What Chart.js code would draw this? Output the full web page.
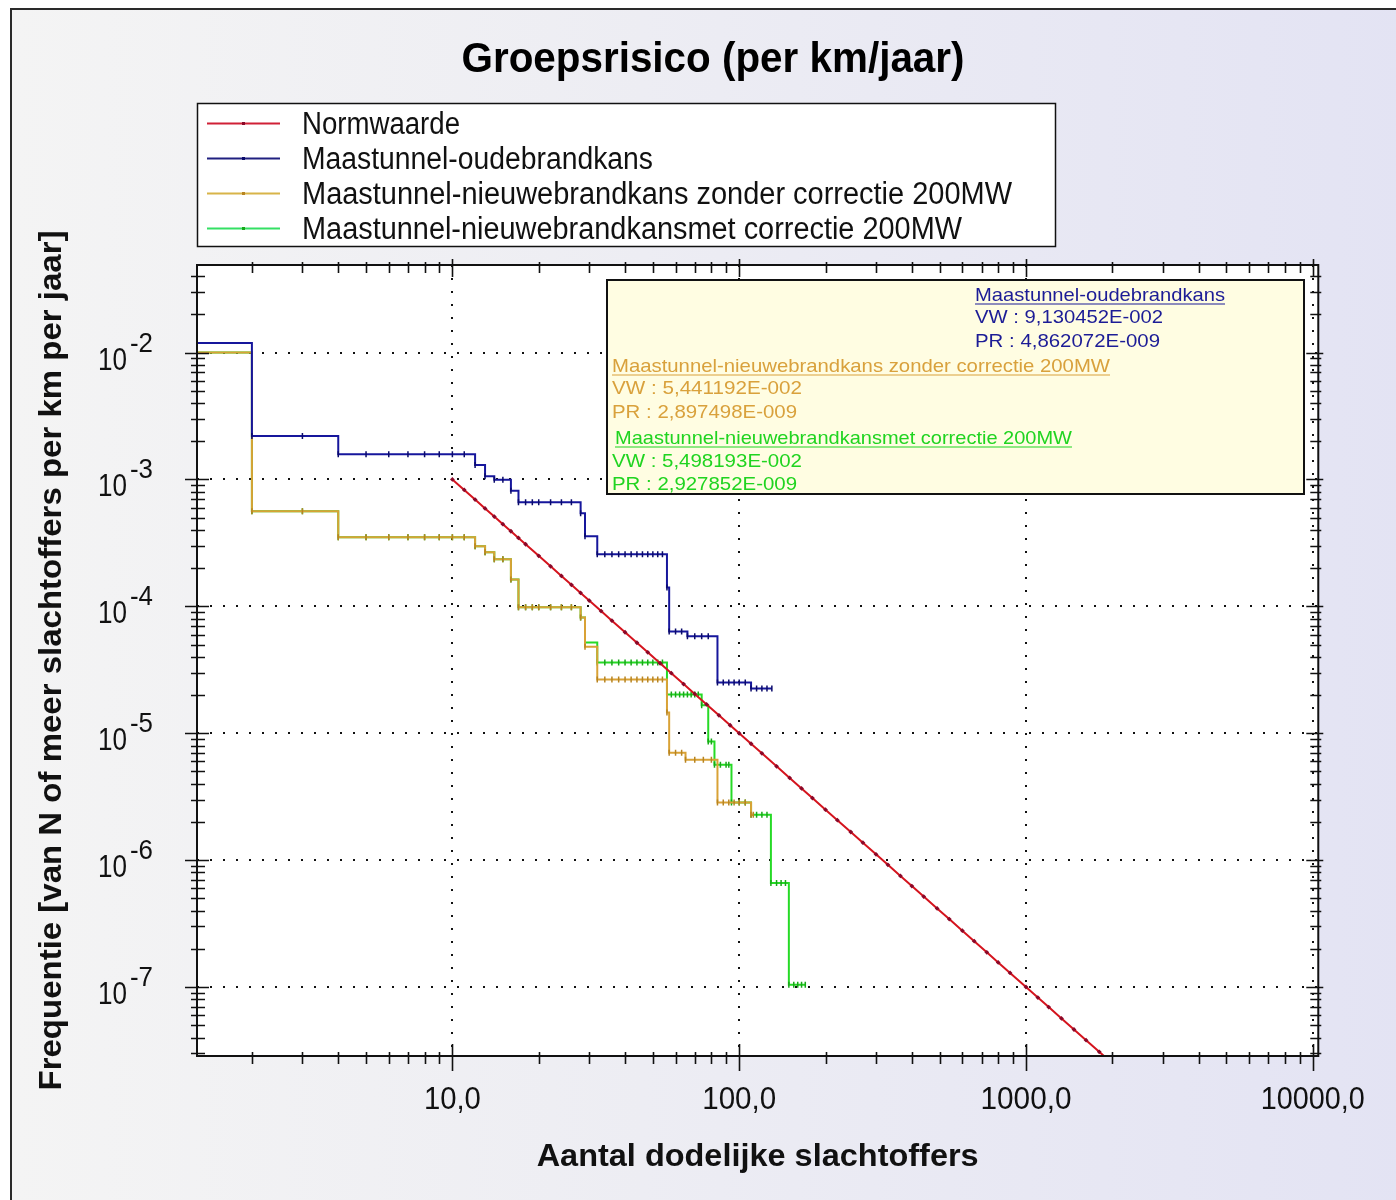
<!DOCTYPE html>
<html><head><meta charset="utf-8">
<script src="https://cdn.jsdelivr.net/npm/chart.js@4.4.1/dist/chart.umd.min.js"></script>
<style>
html,body{margin:0;padding:0;width:1396px;height:1200px;overflow:hidden;background:#fff;}
#frame{position:absolute;left:10px;top:8px;width:1400px;height:1200px;border-left:2px solid #2a2a2a;border-top:2px solid #2a2a2a;background:linear-gradient(90deg,#f4f4f4 0%,#ededf3 45%,#e3e3f3 100%);}
#wrap{position:absolute;left:0;top:0;width:1396px;height:1200px;}
</style></head><body>
<div id="frame"></div>
<div id="wrap"><canvas id="c" width="1396" height="1200"></canvas></div>
<script>
// ---------- data ----------
const seriesNames = ['Normwaarde','Maastunnel-oudebrandkans','Maastunnel-nieuwebrandkans zonder correctie 200MW','Maastunnel-nieuwebrandkansmet correctie 200MW'];
const chartTitle = 'Groepsrisico (per km/jaar)';
const xTitle = 'Aantal dodelijke slachtoffers';
const yTitle = 'Frequentie [van N of meer slachtoffers per km per jaar]';
const xDecades = [10, 100, 1000, 10000];
const xTickLabels = ['10,0', '100,0', '1000,0', '10000,0'];
const yDecades = [1e-7, 1e-6, 1e-5, 1e-4, 1e-3, 1e-2];
const yTickExp = ['-7', '-6', '-5', '-4', '-3', '-2'];

const normN = [10,11,12,13,14,15,16,17,18,20,22,24,26,28,30,33,36,40,44,48,53,58,64,70,77,85,93,100,110,120,135,150,165,180,200,220,245,270,300,330,365,400,440,490,540,600,660,730,800,880,1000,1100,1200,1330,1470,1620,1800,2000];
const normF = [1.000e-3,8.264e-4,6.944e-4,5.917e-4,5.102e-4,4.444e-4,3.906e-4,3.460e-4,3.086e-4,2.500e-4,2.066e-4,1.736e-4,1.479e-4,1.276e-4,1.111e-4,9.183e-5,7.716e-5,6.250e-5,5.165e-5,4.340e-5,3.560e-5,2.973e-5,2.441e-5,2.041e-5,1.687e-5,1.384e-5,1.156e-5,1.000e-5,8.264e-6,6.944e-6,5.487e-6,4.444e-6,3.673e-6,3.086e-6,2.500e-6,2.066e-6,1.666e-6,1.372e-6,1.111e-6,9.183e-7,7.506e-7,6.250e-7,5.165e-7,4.165e-7,3.429e-7,2.778e-7,2.296e-7,1.877e-7,1.563e-7,1.291e-7,1.000e-7,8.264e-8,6.944e-8,5.653e-8,4.628e-8,3.810e-8,3.086e-8,2.500e-8];

const oudeN = [1,2,3,4,5,6,7,8,9,10,11,12,13,14,15,16,17,18,19,20,22,24,26,28,29,32,34,36,38,40,42,44,46,48,50,52,54,56,57,60,63,66,70,74,78,84,88,92,96,100,105,110,115,120,125,130];
const oudeF = [1.19e-2,2.2e-3,2.2e-3,1.58e-3,1.58e-3,1.58e-3,1.58e-3,1.58e-3,1.58e-3,1.58e-3,1.58e-3,1.30e-3,1.06e-3,9.93e-4,9.93e-4,8.13e-4,6.62e-4,6.62e-4,6.62e-4,6.62e-4,6.62e-4,6.62e-4,6.62e-4,5.42e-4,3.57e-4,2.57e-4,2.57e-4,2.57e-4,2.57e-4,2.57e-4,2.57e-4,2.57e-4,2.57e-4,2.57e-4,2.57e-4,2.57e-4,2.57e-4,1.41e-4,6.35e-5,6.35e-5,6.35e-5,5.80e-5,5.80e-5,5.80e-5,5.80e-5,2.51e-5,2.51e-5,2.51e-5,2.51e-5,2.51e-5,2.51e-5,2.25e-5,2.25e-5,2.25e-5,2.25e-5,2.25e-5];

const zonderN = [1,2,3,4,5,6,7,8,9,10,11,12,13,14,15,16,17,18,19,20,22,24,26,28,29,32,34,36,38,40,42,44,46,48,50,52,54,56,57,60,63,65,70,75,80,84,88,92,96,100,105,110,112];
const zonderF = [1.0e-2,5.62e-4,5.62e-4,3.51e-4,3.51e-4,3.51e-4,3.51e-4,3.51e-4,3.51e-4,3.51e-4,3.51e-4,2.98e-4,2.67e-4,2.35e-4,2.35e-4,1.63e-4,9.82e-5,9.82e-5,9.82e-5,9.82e-5,9.82e-5,9.82e-5,9.82e-5,8.18e-5,4.8e-5,2.65e-5,2.65e-5,2.65e-5,2.65e-5,2.65e-5,2.65e-5,2.65e-5,2.65e-5,2.65e-5,2.65e-5,2.65e-5,2.65e-5,1.46e-5,7.03e-6,7.03e-6,7.03e-6,6.19e-6,6.19e-6,6.19e-6,6.19e-6,2.84e-6,2.84e-6,2.84e-6,2.84e-6,2.84e-6,2.84e-6,2.28e-6,2.28e-6];

const metN = [1,2,3,4,5,6,7,8,9,10,11,12,13,14,15,16,17,18,19,20,22,24,26,28,29,32,34,36,38,40,42,44,46,48,50,52,54,56,58,60,62,64,66,68,70,72,74,78,80,82,86,90,92,94,100,105,110,115,120,125,129,135,140,145,149,155,160,165,170];
const metF = [1.0e-2,5.62e-4,5.62e-4,3.51e-4,3.51e-4,3.51e-4,3.51e-4,3.51e-4,3.51e-4,3.51e-4,3.51e-4,2.98e-4,2.67e-4,2.35e-4,2.35e-4,1.63e-4,9.82e-5,9.82e-5,9.82e-5,9.82e-5,9.82e-5,9.82e-5,9.82e-5,8.18e-5,5.2e-5,3.61e-5,3.61e-5,3.61e-5,3.61e-5,3.61e-5,3.61e-5,3.61e-5,3.61e-5,3.61e-5,3.61e-5,3.61e-5,3.61e-5,2.02e-5,2.02e-5,2.02e-5,2.02e-5,2.02e-5,2.02e-5,2.02e-5,2.02e-5,2.02e-5,1.66e-5,8.6e-6,8.6e-6,5.65e-6,5.65e-6,5.65e-6,5.65e-6,2.84e-6,2.84e-6,2.84e-6,2.28e-6,2.28e-6,2.28e-6,2.28e-6,6.6e-7,6.6e-7,6.6e-7,6.6e-7,1.04e-7,1.04e-7,1.04e-7,1.04e-7,1.04e-7];

const infoBlocks = [
  {name: 'Maastunnel-oudebrandkans', vw: 'VW : 9,130452E-002', pr: 'PR : 4,862072E-009'},
  {name: 'Maastunnel-nieuwebrandkans zonder correctie 200MW', vw: 'VW : 5,441192E-002', pr: 'PR : 2,897498E-009'},
  {name: 'Maastunnel-nieuwebrandkansmet correctie 200MW', vw: 'VW : 5,498193E-002', pr: 'PR : 2,927852E-009'}
];

// ---------- styling ----------
const FONT = '"Liberation Sans", Arial, sans-serif';
const lineColors = ['#d4141e', '#16169c', '#d9a236', '#26da26'];
const markColors = ['#8a0828', '#0a0a6a', '#b88420', '#18a818'];
const legendColors = ['#d02036', '#202080', '#d8b448', '#34e064'];
const infoColors = ['#1c1c96', '#d9a13c', '#20d420'];

const pts = (n, f) => n.map((v, i) => ({x: v, y: f[i]}));

// text width fitting for library-drawn labels
const origFill = CanvasRenderingContext2D.prototype.fillText;
const FIT = {'10,0': 57, '100,0': 74, '1000,0': 91, '10000,0': 104};
FIT[xTitle] = 442; FIT[yTitle] = 860;
CanvasRenderingContext2D.prototype.fillText = function (t, x, y, mw) {
  const target = FIT[t];
  if (target) {
    const w = this.measureText(t).width;
    this.save(); this.translate(x, y); this.scale(target / w, 1);
    origFill.call(this, t, 0, 0);
    this.restore();
    return;
  }
  if (mw === undefined) return origFill.call(this, t, x, y);
  return origFill.call(this, t, x, y, mw);
};

function fitText(ctx, text, x, y, font, color, width, align) {
  ctx.save();
  ctx.font = font; ctx.fillStyle = color; ctx.textAlign = 'left'; ctx.textBaseline = 'alphabetic';
  const w = ctx.measureText(text).width;
  const tw = width || w;
  const x0 = align === 'center' ? x - tw / 2 : x;
  ctx.translate(x0, y); ctx.scale(tw / w, 1);
  origFill.call(ctx, text, 0, 0);
  ctx.restore();
  return tw;
}

const decor = {
  id: 'decor',
  beforeDraw(chart) {
    const {ctx, chartArea: a} = chart;
    ctx.save();
    ctx.fillStyle = '#ffffff';
    ctx.fillRect(a.left, a.top, a.right - a.left, a.bottom - a.top);
    ctx.restore();
  },
  afterDatasetsDraw(chart) {
    const {ctx, chartArea: a, scales: {x, y}} = chart;
    ctx.save();
    ctx.strokeStyle = '#111'; ctx.lineWidth = 2;
    ctx.strokeRect(a.left, a.top, a.right - a.left, a.bottom - a.top);
    ctx.lineWidth = 1.6;
    ctx.beginPath();
    // x ticks (bottom + top)
    for (let e = 0; e <= 4; e++) {
      for (let k = 1; k <= 9; k++) {
        const v = k * Math.pow(10, e);
        if (v < x.min || v > x.max) continue;
        const px = Math.round(x.getPixelForValue(v)) + 0.5;
        const major = k === 1;
        ctx.moveTo(px, a.bottom - (major ? 12 : 4)); ctx.lineTo(px, a.bottom + (major ? 15 : 8));
        ctx.moveTo(px, a.top - (major ? 6 : 3)); ctx.lineTo(px, a.top + (major ? 12 : 8));
      }
    }
    // y ticks (left + right)
    for (let e = -8; e <= -1; e++) {
      for (let k = 1; k <= 9; k++) {
        const v = k * Math.pow(10, e);
        if (v < y.min || v > y.max) continue;
        const py = Math.round(y.getPixelForValue(v)) + 0.5;
        const major = k === 1;
        ctx.moveTo(a.left - (major ? 12 : 6), py); ctx.lineTo(a.left + (major ? 12 : 8), py);
        ctx.moveTo(a.right - (major ? 12 : 8), py); ctx.lineTo(a.right + (major ? 5 : 3), py);
      }
    }
    ctx.stroke();
    ctx.restore();
  },
  afterDraw(chart) {
    const {ctx, scales: {y}} = chart;
    // y tick labels with superscript exponents
    yDecades.forEach((v, i) => {
      const py = y.getPixelForValue(v);
      fitText(ctx, '10', 98, py + 17, '32px ' + FONT, '#111', 29);
      fitText(ctx, yTickExp[i], 130, py - 1, '27px ' + FONT, '#111', 23);
    });
    // title
    fitText(ctx, chartTitle, 713, 72, 'bold 42px ' + FONT, '#000', 503, 'center');
    // legend box
    ctx.save();
    ctx.fillStyle = '#fff'; ctx.fillRect(197, 103, 858, 143);
    ctx.strokeStyle = '#111'; ctx.lineWidth = 1.5; ctx.strokeRect(197.5, 103.5, 858, 143);
    ctx.restore();
    const legW = [158, 351, 710, 660];
    seriesNames.forEach((nm, i) => {
      const cy = 123 + i * 35;
      ctx.save();
      ctx.strokeStyle = legendColors[i]; ctx.lineWidth = 2;
      ctx.beginPath(); ctx.moveTo(207, cy + 0.5); ctx.lineTo(280, cy + 0.5); ctx.stroke();
      ctx.fillStyle = markColors[i]; ctx.fillRect(242, cy - 1, 3, 3);
      ctx.restore();
      fitText(ctx, nm, 302, cy + 11, '31px ' + FONT, '#111', legW[i]);
    });
    // info box
    ctx.save();
    ctx.fillStyle = '#fffde2'; ctx.fillRect(607, 280, 697, 214);
    ctx.strokeStyle = '#111'; ctx.lineWidth = 2; ctx.strokeRect(607, 280, 697, 214);
    ctx.restore();
    const layout = [
      {x: 975, y: [301, 323, 347], w: [250, 188, 185]},
      {x: 612, y: [372, 394, 418], w: [498, 190, 185]},
      {x: 615, y: [444, 467, 490], w: [457, 190, 185]}
    ];
    infoBlocks.forEach((b, i) => {
      const L = layout[i];
      const f = '19px ' + FONT;
      const tw = fitText(ctx, b.name, L.x, L.y[0], f, infoColors[i], L.w[0]);
      ctx.save(); ctx.strokeStyle = infoColors[i]; ctx.lineWidth = 1.2;
      ctx.beginPath(); ctx.moveTo(L.x, L.y[0] + 3); ctx.lineTo(L.x + tw, L.y[0] + 3); ctx.stroke(); ctx.restore();
      fitText(ctx, b.vw, i === 0 ? L.x : 612, L.y[1], f, infoColors[i], L.w[1]);
      fitText(ctx, b.pr, i === 0 ? L.x : 612, L.y[2], f, infoColors[i], L.w[2]);
    });
  }
};

const ctx = document.getElementById('c').getContext('2d');
new Chart(ctx, {
  type: 'line',
  data: {
    datasets: [
      {label: seriesNames[0], data: pts(normN, normF), borderColor: lineColors[0], borderWidth: 2,
       pointStyle: 'rectRot', pointRadius: 2.4, pointBackgroundColor: markColors[0], pointBorderWidth: 0, tension: 0},
      {label: seriesNames[1], data: pts(oudeN, oudeF), borderColor: lineColors[1], borderWidth: 2, stepped: 'before',
       pointStyle: 'line', rotation: 90, pointRadius: 3, pointBorderColor: markColors[1], pointBorderWidth: 1.5},
      {label: seriesNames[2], data: pts(zonderN, zonderF), borderColor: lineColors[2], borderWidth: 2, stepped: 'before',
       pointStyle: 'line', rotation: 90, pointRadius: 3, pointBorderColor: markColors[2], pointBorderWidth: 1.5},
      {label: seriesNames[3], data: pts(metN, metF), borderColor: lineColors[3], borderWidth: 2, stepped: 'before',
       pointStyle: 'line', rotation: 90, pointRadius: 3, pointBorderColor: markColors[3], pointBorderWidth: 1.5}
    ]
  },
  options: {
    responsive: false, animation: false, devicePixelRatio: 1,
    layout: {padding: {left: 0, top: 265, right: 75, bottom: 0}},
    plugins: {legend: {display: false}, tooltip: {enabled: false}, title: {display: false}},
    scales: {
      x: {
        type: 'logarithmic', position: 'bottom', min: 1.287, max: 10450,
        afterFit: s => { s.height = 144; },
        afterBuildTicks: s => { s.ticks = xDecades.map(v => ({value: v, major: true})); },
        ticks: {autoSkip: false, maxRotation: 0, minRotation: 0, padding: 25, color: '#111',
                font: {family: FONT, size: 32},
                callback: v => { const i = xDecades.indexOf(v); return i >= 0 ? xTickLabels[i] : ''; }},
        grid: {drawTicks: false, color: '#111', lineWidth: 2},
        border: {display: false, dash: [2, 11]},
        title: {display: true, text: xTitle, color: '#111', font: {family: FONT, size: 32, weight: 'bold'},
                padding: {top: 0, bottom: 24}}
      },
      y: {
        type: 'logarithmic', position: 'left', min: 2.86e-8, max: 4.9e-2,
        afterFit: s => { s.width = 197; },
        afterBuildTicks: s => { s.ticks = yDecades.map(v => ({value: v, major: true})); },
        ticks: {display: false},
        grid: {drawTicks: false, color: '#111', lineWidth: 2},
        border: {display: false, dash: [2, 11]},
        title: {display: true, text: yTitle, color: '#111', font: {family: FONT, size: 32, weight: 'bold'},
                padding: {top: 33, bottom: 0}}
      }
    }
  },
  plugins: [decor]
});
</script>
</body></html>
